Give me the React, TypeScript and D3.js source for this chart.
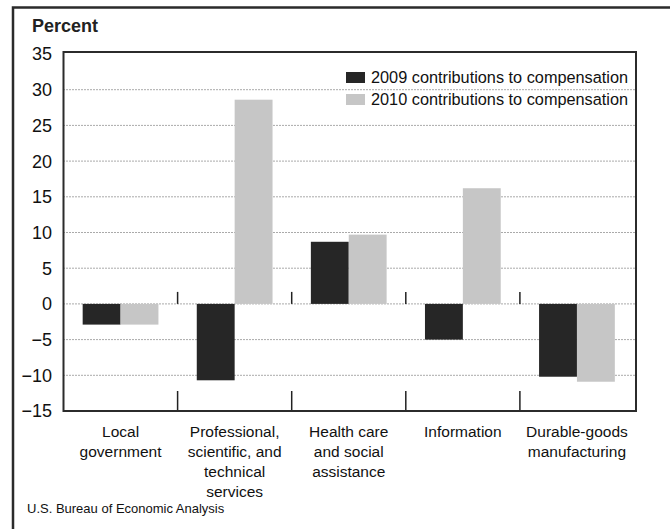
import React from "react";
import * as d3 from "d3";

const categories = [
  ["Local", "government"],
  ["Professional,", "scientific, and", "technical", "services"],
  ["Health care", "and social", "assistance"],
  ["Information"],
  ["Durable-goods", "manufacturing"],
];
const categoryKeys = ["local", "professional", "health", "information", "durable"];
const series = ["2009 contributions to compensation", "2010 contributions to compensation"];
const values2009 = [-2.9, -10.7, 8.7, -5.0, -10.2];
const values2010 = [-2.9, 28.6, 9.7, 16.2, -10.9];
const yTicks = [35, 30, 25, 20, 15, 10, 5, 0, -5, -10, -15];
const gridValues = [30, 25, 20, 15, 10, 5, 0, -5, -10];
const yAxisTitle = "Percent";
const source = "U.S. Bureau of Economic Analysis";

const W = 670;
const H = 529;
const plot = { left: 63.5, right: 636, top: 54, bottom: 411 };
const colors = ["#262626", "#c6c6c6"];
const font = "'Liberation Sans', Arial, Helvetica, sans-serif";

export default function App() {
  const y = d3.scaleLinear().domain([-15, 35]).range([plot.bottom, plot.top]);
  const x0 = d3.scaleBand<string>().domain(categoryKeys).range([plot.left, plot.right - 2]).padding(0);
  const bw = x0.bandwidth();
  const x1 = d3.scaleBand<string>().domain(series).range([bw * 0.168, bw * 0.832]).padding(0);
  const data = [values2009, values2010];
  const boundaries = categoryKeys.slice(1).map((k) => x0(k) as number);

  return (
    <div style={{ position: "absolute", left: 0, top: 0 }}>
      <svg width={W} height={H} style={{ display: "block", background: "#fff" }}>
        {/* outer frame */}
        <rect x={13} y={7.5} width={W + 20} height={H + 20} fill="none" stroke="#2b2b2b" strokeWidth={2.5} />

        {/* gridlines */}
        {gridValues.map((v) => (
          <line
            key={"g" + v}
            x1={plot.left}
            x2={plot.right}
            y1={y(v)}
            y2={y(v)}
            stroke="#555"
            strokeWidth={1}
            strokeDasharray="1,2"
          />
        ))}

        {/* bars */}
        {data.map((vals, si) =>
          vals.map((v, ci) => {
            const xx = (x0(categoryKeys[ci]) as number) + (x1(series[si]) as number);
            return (
              <rect
                key={`b${si}-${ci}`}
                x={xx}
                y={y(Math.max(0, v))}
                width={x1.bandwidth()}
                height={Math.abs(y(v) - y(0))}
                fill={colors[si]}
              />
            );
          })
        )}

        {/* category separator ticks */}
        {boundaries.map((bx, i) => (
          <g key={"t" + i}>
            <line x1={bx} x2={bx} y1={y(0)} y2={y(0) - 12} stroke="#222" strokeWidth={1.5} />
            <line x1={bx} x2={bx} y1={plot.bottom} y2={plot.bottom - 20} stroke="#222" strokeWidth={1.5} />
          </g>
        ))}

        {/* plot frame */}
        <rect
          x={plot.left}
          y={plot.top - 2}
          width={plot.right - plot.left}
          height={plot.bottom - plot.top + 2}
          fill="none"
          stroke="#2b2b2b"
          strokeWidth={2}
        />

        {/* y tick labels */}
        {yTicks.map((v) => (
          <text
            key={"y" + v}
            x={52}
            y={y(v)}
            dy="0.36em"
            textAnchor="end"
            fontFamily={font}
            fontSize={18}
            fill="#111"
          >
            {v < 0 ? "\u2212" + Math.abs(v) : String(v)}
          </text>
        ))}

        {/* y axis title */}
        <text x={32} y={32} fontFamily={font} fontSize={18} fontWeight="bold" fill="#222">
          {yAxisTitle}
        </text>

        {/* category labels */}
        {categories.map((lines, ci) => (
          <text
            key={"c" + ci}
            x={(x0(categoryKeys[ci]) as number) + bw / 2}
            y={437}
            textAnchor="middle"
            fontFamily={font}
            fontSize={15.5}
            fill="#111"
          >
            {lines.map((ln, li) => (
              <tspan key={li} x={(x0(categoryKeys[ci]) as number) + bw / 2} dy={li === 0 ? 0 : 20}>
                {ln}
              </tspan>
            ))}
          </text>
        ))}

        {/* legend */}
        {series.map((s, i) => (
          <g key={"l" + i} transform={`translate(346, ${72 + i * 22})`}>
            <rect x={0} y={0} width={19} height={11} fill={colors[i]} />
            <text x={25} y={11} fontFamily={font} fontSize={16.3} fill="#111">
              {s}
            </text>
          </g>
        ))}

        {/* source */}
        <text x={27} y={513} fontFamily={font} fontSize={13} fill="#111">
          {source}
        </text>
      </svg>
    </div>
  );
}
